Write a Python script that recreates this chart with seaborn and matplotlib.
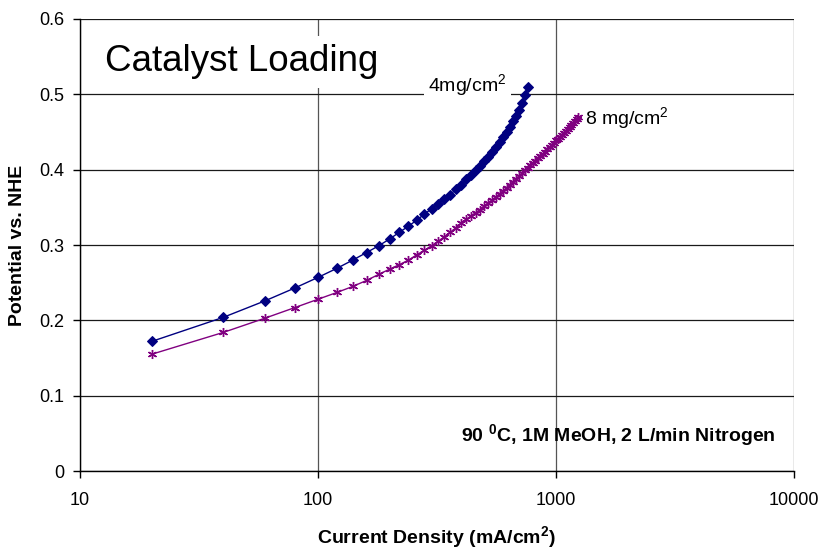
import numpy as np
import pandas as pd
import matplotlib
matplotlib.use("Agg")
import matplotlib.pyplot as plt
import matplotlib.ticker as ticker
import seaborn as sns

# current density (mA/cm2) and potential vs NHE
current_4mg = [20, 40, 60, 80, 100, 120, 140, 160, 180, 200, 220, 240, 260, 280,
               300, 320, 340, 360, 380, 400, 420, 440, 460, 480, 500, 520, 540,
               560, 580, 600, 620, 640, 660, 680, 700, 720, 740, 760]
potential_4mg = [0.172, 0.204, 0.226, 0.243, 0.257, 0.269, 0.280, 0.290, 0.299,
                 0.308, 0.317, 0.325, 0.333, 0.341, 0.348, 0.355, 0.361, 0.367,
                 0.374, 0.380, 0.387, 0.393, 0.399, 0.405, 0.411, 0.417, 0.423,
                 0.430, 0.437, 0.443, 0.450, 0.457, 0.464, 0.471, 0.479, 0.488,
                 0.499, 0.510]

current_8mg = [20, 40, 60, 80, 100, 120, 140, 160, 180, 200, 220, 240, 260, 280,
               300, 320, 340, 360, 380, 400, 420, 440, 460, 480, 500, 520, 540,
               560, 580, 600, 620, 640, 660, 680, 700, 720, 740, 760, 780, 800,
               820, 840, 860, 880, 900, 920, 940, 960, 980, 1000, 1020, 1040,
               1060, 1080, 1100, 1120, 1140, 1160, 1180, 1200, 1220, 1240]
potential_8mg = [0.155, 0.184, 0.203, 0.217, 0.228, 0.237, 0.245, 0.253, 0.261,
                 0.268, 0.274, 0.280, 0.287, 0.293, 0.299, 0.305, 0.311, 0.317,
                 0.323, 0.329, 0.334, 0.339, 0.343, 0.347, 0.352, 0.356, 0.360,
                 0.364, 0.368, 0.372, 0.376, 0.380, 0.384, 0.388, 0.391, 0.395,
                 0.399, 0.402, 0.406, 0.409, 0.412, 0.415, 0.418, 0.421, 0.424,
                 0.427, 0.430, 0.433, 0.436, 0.439, 0.441, 0.444, 0.446, 0.449,
                 0.451, 0.454, 0.456, 0.459, 0.462, 0.464, 0.467, 0.470]

x_ticks = [10, 100, 1000, 10000]
y_ticks = [0, 0.1, 0.2, 0.3, 0.4, 0.5, 0.6]

sns.set_style("white")
plt.rcParams['font.family'] = ['Liberation Sans', 'DejaVu Sans']
plt.rcParams['mathtext.fontset'] = 'custom'
plt.rcParams['mathtext.rm'] = 'Liberation Sans'
plt.rcParams['mathtext.it'] = 'Liberation Sans:italic'
plt.rcParams['mathtext.bf'] = 'Liberation Sans:bold'
plt.rcParams['text.color'] = 'black'
plt.rcParams['axes.labelcolor'] = 'black'
plt.rcParams['xtick.color'] = 'black'
plt.rcParams['ytick.color'] = 'black'

fig = plt.figure(figsize=(8.21, 5.49), dpi=100)
ax = fig.add_axes([0.0974, 0.142, 0.8697, 0.8234])

df4 = pd.DataFrame({"current": current_4mg, "potential": potential_4mg})
df8 = pd.DataFrame({"current": current_8mg, "potential": potential_8mg})

sns.lineplot(data=df4, x="current", y="potential", ax=ax, color="#000080",
             marker="D", markersize=5, markeredgecolor="#000080", lw=1, zorder=3)
sns.lineplot(data=df8, x="current", y="potential", ax=ax, color="#800080",
             marker=(6, 2, 0), markersize=6.5, markeredgewidth=1,
             markeredgecolor="#800080", lw=1, zorder=3)

ax.set_xscale("log")
ax.set_xlim(10, 10000)
ax.set_ylim(0, 0.6)
ax.xaxis.set_major_locator(ticker.FixedLocator(x_ticks))
ax.xaxis.set_minor_locator(ticker.NullLocator())
ax.set_xticks(x_ticks)
ax.set_xticklabels([str(t) for t in x_ticks])
ax.set_yticks(y_ticks)
ax.set_yticklabels(["0"] + [f"{t:.1f}" for t in y_ticks[1:]])

ax.yaxis.grid(True, color="#1a1a1a", lw=0.9)
ax.xaxis.grid(True, color="#555555", lw=0.9)
for side in ["top", "right"]:
    ax.spines[side].set_visible(False)
for side in ["left", "bottom"]:
    ax.spines[side].set_color("black")
    ax.spines[side].set_linewidth(1)
ax.tick_params(axis="both", which="major", direction="out", length=5,
               width=1, color="black", labelsize=13, pad=6,
               bottom=True, left=True)
ax.tick_params(axis="x", pad=10)

ax.set_xlabel(r"Current Density (mA/cm$\mathbf{^2}$)", fontsize=14,
              fontweight="bold", labelpad=11)
ax.set_ylabel("Potential vs. NHE", fontsize=14, fontweight="bold", labelpad=10)

ax.text(0.035, 0.905, "Catalyst Loading", transform=ax.transAxes, fontsize=26.5,
        va="center", ha="left", zorder=4,
        bbox=dict(facecolor="white", edgecolor="none", pad=6))
ax.text(290, 0.512, r"4mg/cm$^2$", fontsize=14, va="center", ha="left", zorder=4,
        bbox=dict(facecolor="white", edgecolor="none", pad=3))
ax.text(1330, 0.469, r"8 mg/cm$^2$", fontsize=14, va="center", ha="left", zorder=4)
ax.text(0.534, 0.08, r"90 $\mathbf{^0}$C, 1M MeOH, 2 L/min Nitrogen",
        transform=ax.transAxes, fontsize=14, fontweight="bold",
        va="center", ha="left", zorder=4)

fig.savefig("out.png", dpi=100)
